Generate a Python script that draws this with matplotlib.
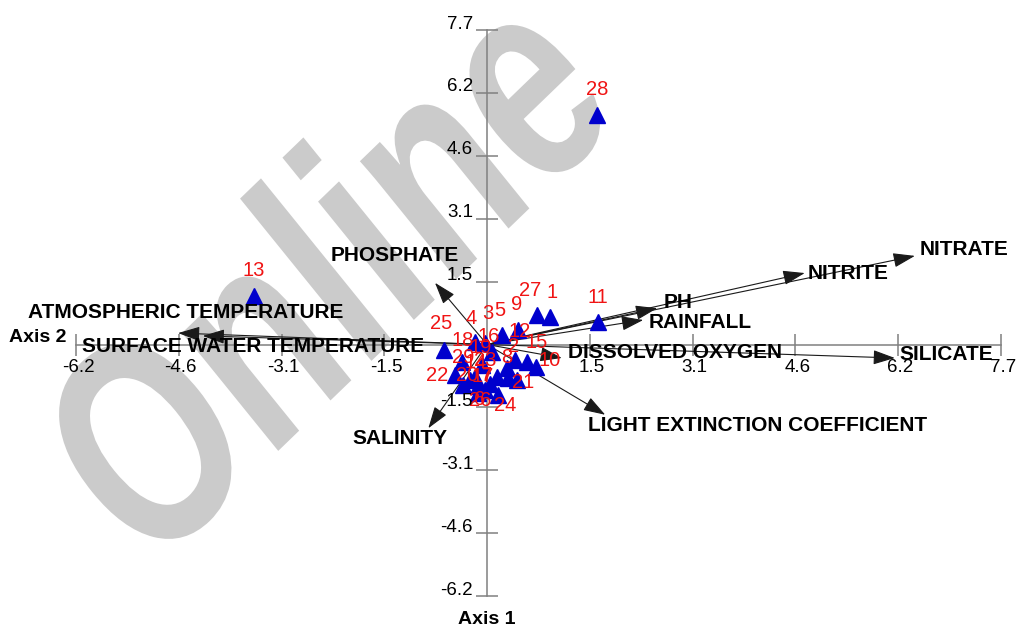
import numpy as np
import matplotlib
matplotlib.use("Agg")
import matplotlib.pyplot as plt
from matplotlib.textpath import TextPath
from matplotlib.font_manager import FontProperties
from matplotlib.patches import PathPatch
from matplotlib.transforms import Affine2D, IdentityTransform

plt.rcParams['font.family'] = ['Liberation Sans', 'DejaVu Sans']

# site scores (axis 2 horizontal, axis 1 vertical)
site_ids = list(range(1, 30))
site_x = [0.94, 0.30, -0.03, -0.18, 0.22, -0.03, 0.04, 0.31, 0.46, 0.73,
          1.66, 0.42, -3.49, -0.25, 0.60, 0.07, -0.13, -0.37, -0.07, -0.18,
          0.45, -0.48, 0.15, 0.16, -0.64, -0.13, 0.75, 1.65, -0.36]
site_y = [0.67, -0.58, 0.04, 0.06, 0.23, -1.11, -0.97, -0.82, 0.36, -0.55,
          0.55, -0.38, 1.19, -0.87, -0.43, -0.18, -1.02, -0.43, -0.50, -0.80,
          -0.87, -0.75, -0.80, -1.24, -0.13, -1.19, 0.72, 5.62, -0.99]

# environmental variable vectors
env_names = ['NITRATE', 'NITRITE', 'PH', 'RAINFALL', 'SILICATE',
             'DISSOLVED OXYGEN', 'LIGHT EXTINCTION COEFFICIENT', 'SALINITY',
             'PHOSPHATE', 'ATMOSPHERIC TEMPERATURE', 'SURFACE WATER TEMPERATURE']
env_x = [6.41, 4.76, 2.55, 2.34, 6.11, 1.12, 1.77, -0.88, -0.78, -4.63, -4.26]
env_y = [2.17, 1.75, 0.89, 0.60, -0.33, -0.33, -1.72, -2.05, 1.51, 0.28, 0.21]

tick_vals = [-6.16, -4.62, -3.08, -1.54, 1.54, 3.08, 4.62, 6.16, 7.7]
tick_text = ['-6.2', '-4.6', '-3.1', '-1.5', '1.5', '3.1', '4.6', '6.2', '7.7']

# label placement (pixel offsets from the point / arrow tip)
site_off = {1: (2, 25), 2: (6, 22), 3: (3, 29), 4: (-4, 24), 5: (-2, 25),
            6: (-5, -10), 7: (-3, 9), 8: (-1, 20), 9: (-1, 25), 10: (14, 6),
            11: (0, 25), 12: (5, 29), 13: (0, 25), 14: (5, 18), 15: (10, 20),
            16: (-3, 15), 17: (4, 10), 18: (0, 22), 19: (-2, 17), 20: (-8, 2),
            21: (6, -2), 22: (-18, 0), 23: (-12, 17), 24: (7, -10), 25: (-3, 26),
            26: (2, -7), 27: (-7, 25), 28: (0, 25), 29: (0, 27)}
env_off = {'NITRATE': (5, 6, 'left'), 'NITRITE': (3, 0, 'left'),
           'PH': (6, 6, 'left'), 'RAINFALL': (5, -2, 'left'),
           'SILICATE': (5, 3, 'left'), 'DISSOLVED OXYGEN': (6, 5, 'left'),
           'LIGHT EXTINCTION COEFFICIENT': (-17, -11, 'left'),
           'SALINITY': (-28, -10, 'center'), 'PHOSPHATE': (-40, 27, 'center'),
           'ATMOSPHERIC TEMPERATURE': (8, 21, 'center'),
           'SURFACE WATER TEMPERATURE': (50, -11, 'center')}

fig = plt.figure(figsize=(10.24, 6.34), dpi=100)
ax = fig.add_axes([0, 0, 1, 1])
ax.axis('off')

# watermark, drawn as a text outline in pixel space (tall letters, slight slant)
tp = TextPath((0, 0), 'Online', size=208,
              prop=FontProperties(family='Liberation Sans', weight='bold'))
bb = tp.get_extents()
wm = (Affine2D().translate(-(bb.x0 + bb.x1) / 2, -(bb.y0 + bb.y1) / 2)
      .scale(1.02, 1.38).skew_deg(5, 0).rotate_deg(44)
      .translate(322, 634 - 266))
ax.add_patch(PathPatch(wm.transform_path(tp), transform=IdentityTransform(),
                       fc='#cbcbcb', ec='none', zorder=0))

ax.set_xlim(-7.298, 8.045)
ax.set_ylim(-7.088, 8.435)

axis_col = '#808080'
ax.plot([tick_vals[0], tick_vals[-1]], [0, 0], color=axis_col, lw=1.1, zorder=1)
ax.plot([0, 0], [tick_vals[0], tick_vals[-1]], color=axis_col, lw=1.1, zorder=1)
ax.plot(tick_vals, np.zeros(len(tick_vals)), ls='none', marker='|',
        ms=16, mew=1.1, color=axis_col, zorder=1)
ax.plot(np.zeros(len(tick_vals)), tick_vals, ls='none', marker='_',
        ms=16, mew=1.1, color=axis_col, zorder=1)

for v, t in zip(tick_vals, tick_text):
    ax.annotate(t, (v, 0), xytext=(2, -23), textcoords='offset pixels',
                ha='center', va='center', fontsize=13.5, zorder=5)
    ax.annotate(t, (0, v), xytext=(-14, 6), textcoords='offset pixels',
                ha='right', va='center', fontsize=13.5, zorder=5)

ax.annotate('Axis 2', (0.037, 1 - 337 / 634), xycoords='axes fraction',
            ha='center', va='center', fontsize=14, fontweight='bold')
ax.annotate('Axis 1', (487 / 1024, 1 - 620 / 634), xycoords='axes fraction',
            ha='center', va='center', fontsize=14, fontweight='bold')

# vectors
for name, x, y in zip(env_names, env_x, env_y):
    ax.annotate('', xy=(x, y), xytext=(0, 0),
                arrowprops=dict(arrowstyle='-|>,head_length=0.45,head_width=0.15',
                                mutation_scale=30, color='#1a1a1a', lw=0.8,
                                shrinkA=0, shrinkB=0), zorder=2)
    dx, dy, ha = env_off[name]
    ax.annotate(name, (x, y), xytext=(dx, dy), textcoords='offset pixels',
                ha=ha, va='center', fontsize=15, fontweight='bold', zorder=6)

# sites
ax.plot(site_x, site_y, ls='none', marker='^', ms=11.5, color='#0000cd',
        mec='#0000cd', zorder=3)
for sid, x, y in zip(site_ids, site_x, site_y):
    dx, dy = site_off[sid]
    ax.annotate(str(sid), (x, y), xytext=(dx, dy), textcoords='offset pixels',
                ha='center', va='center', fontsize=14.5, color='#f01414', zorder=4)

plt.savefig('out.png', dpi=100)
